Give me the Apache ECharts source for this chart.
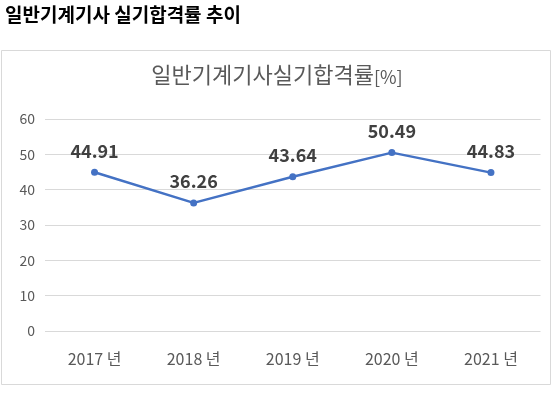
<!DOCTYPE html>
<html><head><meta charset="utf-8">
<script src="https://cdn.jsdelivr.net/npm/echarts@6/dist/echarts.min.js"></script>
<style>html,body{margin:0;padding:0;background:#fff}#c{width:554px;height:395px}</style>
</head><body><div id="c"></div>
<script>
const categories = ['2017 년', '2018 년', '2019 년', '2020 년', '2021 년'];
const passRates = [44.91, 36.26, 43.64, 50.49, 44.83];
const yTicks = [0, 10, 20, 30, 40, 50, 60];
const pageTitle = '일반기계기사 실기합격률 추이';
const chartTitle = '일반기계기사실기합격률';
const chartTitleUnit = '[%]';

const chart = echarts.init(document.getElementById('c'));
const font = '"Noto Sans CJK KR", "Noto Sans", sans-serif';
chart.setOption({
  animation: false,
  textStyle: { fontFamily: font },
  graphic: [
    { type: 'rect', shape: { x: 1.5, y: 50.5, width: 549, height: 334 },
      style: { fill: '#fff', stroke: '#d9d9d9', lineWidth: 1 }, z: -10 },
    { type: 'text', left: 5, top: 5,
      style: { text: pageTitle, font: 'bold 19px ' + font, fill: '#000' } }
  ],
  title: {
    text: '{a|' + chartTitle + '}{b|' + chartTitleUnit + '}',
    left: 'center', top: 59,
    textStyle: { rich: {
      a: { fontSize: 22, color: '#595959', fontFamily: font, fontWeight: 'normal' },
      b: { fontSize: 18, color: '#595959', fontFamily: font, fontWeight: 'normal', padding: [4, 0, 0, 0] }
    } }
  },
  grid: { left: 45, right: 13.5, top: 119, bottom: 64, containLabel: false },
  xAxis: {
    type: 'category', data: categories, boundaryGap: true,
    axisLine: { show: false }, axisTick: { show: false },
    axisLabel: { color: '#595959', fontSize: 16, margin: 20, fontFamily: font }
  },
  yAxis: {
    type: 'value', min: yTicks[0], max: yTicks[yTicks.length - 1], interval: 10,
    axisLine: { show: false }, axisTick: { show: false },
    splitLine: { lineStyle: { color: '#d9d9d9', width: 1 } },
    axisLabel: { color: '#595959', fontSize: 14, margin: 10, fontFamily: font }
  },
  series: [{
    type: 'line', data: passRates,
    lineStyle: { color: '#4472C4', width: 2.5 },
    itemStyle: { color: '#4472C4' },
    symbol: 'circle', symbolSize: 7,
    label: { show: true, position: 'top', distance: 9, color: '#404040',
      fontSize: 18, fontWeight: 'bold', fontFamily: font,
      formatter: p => p.value.toFixed(2) }
  }]
});
</script></body></html>
